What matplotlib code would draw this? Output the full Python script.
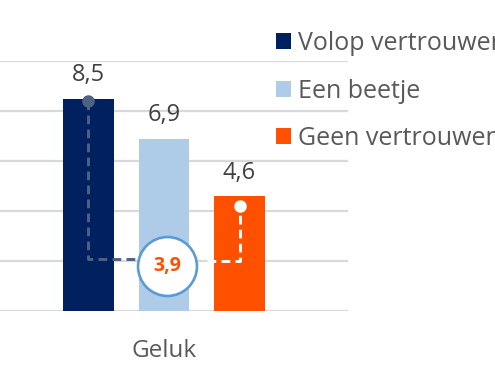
import matplotlib.pyplot as plt
from matplotlib.patches import Patch

plt.rcParams['font.family'] = ['Open Sans', 'DejaVu Sans']

# data
series = ['Volop vertrouwen', 'Een beetje', 'Geen vertrouwen']
values = [8.5, 6.9, 4.6]
category = 'Geluk'
colors = ['#002060', '#AECBE7', '#FF5000']
value_labels = ['8,5', '6,9', '4,6']
diff_label = '3,9'
bracket_level = 2.0

grey = '#595959'

fig = plt.figure(figsize=(4.95, 3.68), dpi=100)
ax = fig.add_axes([0, 57 / 368, 348 / 495, 250 / 368])

x = list(range(len(values)))
ax.bar(x, values, width=0.67, color=colors, zorder=2)
for xi, v, lab in zip(x, values, value_labels):
    ax.text(xi, v + 0.45, lab, ha='center', va='bottom', fontsize=17, color='#404040')

ax.set_ylim(0, 10)
ax.set_xlim(-1.172, 3.437)
ax.set_yticks([0, 2, 4, 6, 8, 10])
ax.yaxis.grid(True, color='#D9D9D9', linewidth=1.6, zorder=0)
ax.set_axisbelow(True)
ax.tick_params(axis='y', length=0, labelleft=False)
ax.set_xticks([1])
ax.set_xticklabels([category], fontsize=17.5, color=grey)
ax.tick_params(axis='x', length=0, pad=20)
for s in ax.spines.values():
    s.set_visible(False)

# bracket from first to last bar
top_a = values[0] - 0.1
top_b = values[2] - 0.4
mid_x = 1.046
mid_y = 1.8
ax.plot([0, 0, 0.95], [top_a, bracket_level + 0.07, bracket_level + 0.07],
        color='#4D6182', lw=2.1, dashes=(3.0, 1.8), zorder=3)
ax.plot([0], [top_a], 'o', color='#4D6182', ms=8, zorder=4)
ax.plot([1.57, 2, 2], [bracket_level, bracket_level, top_b],
        color='white', lw=2.1, dashes=(3.0, 1.8), zorder=3)
ax.plot([2], [top_b], 'o', color='white', ms=8, zorder=4)
ax.scatter([mid_x], [mid_y], s=1800, facecolor='white', edgecolor='#5B9BD5',
           linewidth=1.9, zorder=5)
ax.text(mid_x, mid_y, diff_label, ha='center', va='center', fontsize=14,
        fontweight='bold', color='#FF5000', zorder=6)

handles = [Patch(facecolor=c, edgecolor='none') for c in colors]
fig.legend(handles, series, loc='upper left', bbox_to_anchor=(266 / 495, 1 - 21 / 368),
           frameon=False, fontsize=18, labelcolor=grey, handlelength=0.6,
           handleheight=0.6, handletextpad=0.3, labelspacing=0.9, borderaxespad=0)

fig.savefig('out.png', dpi=100, facecolor='white')
